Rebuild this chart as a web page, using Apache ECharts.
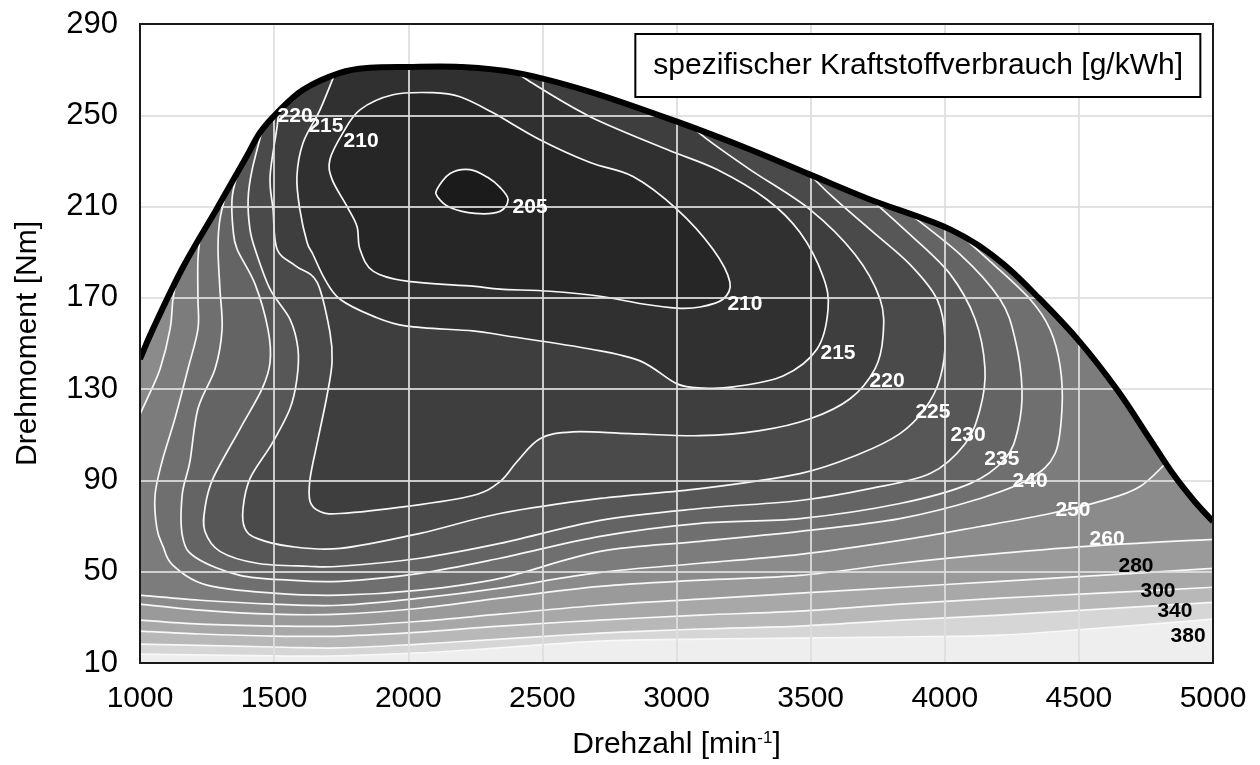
<!DOCTYPE html>
<html>
<head>
<meta charset="utf-8">
<script src="https://cdn.jsdelivr.net/npm/echarts@6/dist/echarts.min.js"></script>
<style>
html,body{margin:0;padding:0;background:#fff;}
#chart{width:1260px;height:765px;}
</style>
</head>
<body>
<div id="chart"></div>
<script>
// ---------- axes ----------
const rpmMin = 1000, rpmMax = 5000, rpmStep = 500;
const tqMin = 10, tqMax = 290, tqStep = 40;

// ---------- full-load curve [rpm, Nm] ----------
const fullLoad = [[1000,143.2],[1048,156.3],[1160,183.4],[1287,209.2],[1391,230.6],[1447,242.4],[1511,251.1],[1608,261.2],[1746,268.6],[1857,270.8],[1999,271.2],[2193,271.2],[2405,268.6],[2678,260.3],[3002,247.2],[3274,235],[3498,224],[3721,213.1],[4020,200],[4206,186],[4355,169.4],[4504,150.6],[4646,129.2],[4760,109],[4850,93],[4930,81],[5000,72]];

// ---------- BSFC contour lines [rpm, Nm] ----------
const c205 = [[2107,217.5],[2156,224.5],[2230,226.2],[2297,222.7],[2342,218.4],[2372,213.1],[2342,207.9],[2249,207],[2156,209.6],[2111,214]];
const c210 = [[1708,230.6],[1757,242.4],[1820,252.4],[1943,259],[2092,259.9],[2193,258.1],[2316,251.1],[2491,239.3],[2678,229.3],[2838,223.2],[3002,208.8],[3136,191.3],[3199,176.9],[3173,169.4],[3088,166],[3002,165.5],[2875,167.3],[2715,170.7],[2528,172.9],[2342,173.8],[2241,175.1],[1995,177.3],[1869,181.7],[1820,191.3],[1809,201.3],[1772,210],[1716,221.9]];
const c215 = [[1734,270.5],[1671,252.4],[1608,238],[1585,223.2],[1596,208.7],[1623,194.3],[1645,189],[1690,178],[1746,169.4],[1869,162],[1995,157.6],[2241,155.5],[2368,153.3],[2678,147.6],[2864,142.4],[3002,132.3],[3100,130.5],[3211,131],[3397,135.8],[3524,147.6],[3565,165.1],[3546,179.5],[3460,198.7],[3337,213.1],[3151,226.2],[2965,235],[2678,249.4],[2454,264.7],[2380,271]];
const c220 = [[1522,257],[1511,245],[1485,223.2],[1496,208.7],[1511,191.3],[1580,184],[1660,176.9],[1708,155],[1716,141.9],[1697,127.1],[1664,108.3],[1634,90.8],[1634,80.8],[1671,76.4],[1746,75.5],[1995,78.6],[2241,83.4],[2342,89.5],[2405,98.2],[2491,108.3],[2614,111.3],[2827,110.5],[3088,109.6],[3311,111.8],[3498,117],[3647,125.8],[3740,138.9],[3770,153.3],[3759,169.4],[3665,189.1],[3498,208.7],[3274,226.2],[3106,240.2],[3030,248]];
const c225 = [[1466,248],[1418,226.2],[1403,213.1],[1410,200],[1429,191.3],[1485,173.8],[1559,160.7],[1589,147.6],[1585,134.5],[1559,121.4],[1492,106.1],[1410,90.8],[1384,77.7],[1391,69],[1436,64.6],[1559,61.1],[1746,60.2],[2044,66.8],[2342,75.5],[2715,82.1],[3088,86.4],[3460,93],[3684,101.7],[3833,110.5],[3926,121.4],[3982,134.5],[4001,152],[3971,169.4],[3870,184.7],[3721,200],[3572,215.3],[3442,230.6]];
const c230 = [[1403,237],[1358,221.9],[1343,213.1],[1347,200],[1362,191.3],[1429,176],[1477,156.3],[1485,141.9],[1455,130.1],[1373,112.6],[1272,90.8],[1242,77.7],[1242,67.7],[1298,58.9],[1436,53.7],[1623,52.4],[1746,52.4],[2044,55.9],[2342,62.4],[2715,72.5],[3088,77.7],[3460,81.2],[3721,86.4],[3945,93],[4076,106.1],[4132,121.4],[4150,138.9],[4113,160.7],[4020,180.4],[3870,197.8],[3684,217.5]];
const c235 = [[1336,223],[1298,204.4],[1291,191.3],[1298,173.8],[1306,156.3],[1280,138.9],[1216,121.4],[1186,98.2],[1157,83.4],[1160,64.6],[1212,55.9],[1373,48.4],[1559,46.3],[1746,45.8],[2044,49.3],[2342,55.9],[2715,65.5],[3088,71.2],[3460,73.3],[3833,79.9],[4094,88.6],[4225,99.5],[4273,112.6],[4288,130.1],[4262,152],[4206,169.4],[4057,189.1],[3815,211.7]];
const c240 = [[1227,199.1],[1216,186.9],[1216,169.4],[1216,156.3],[1179,138.9],[1130,117],[1082,98.2],[1056,83.4],[1063,69],[1086,61.1],[1123,52.8],[1250,44.1],[1496,40.6],[1746,39.7],[2044,41.9],[2342,47.1],[2715,58.9],[3088,63.3],[3460,67.7],[3833,73.3],[4132,82.1],[4318,90.8],[4411,101.7],[4437,121.4],[4430,140.2],[4392,156.3],[4318,169.4],[4169,186],[4001,203.5]];
const c250a = [[1142,181.7],[1123,169.4],[1112,156.3],[1075,138.9],[1030,126.6],[1000,119]];
const c250b = [[1000,39.7],[1224,37.5],[1496,35.8],[1746,35.3],[2044,38.4],[2342,42.8],[2715,49.7],[3088,53.7],[3460,57.6],[3833,63.7],[4132,69.8],[4393,75.5],[4579,80.8],[4728,87.3],[4858,101.7]];
const c260 = [[1000,35.8],[1224,33.2],[1496,31.4],[1746,31.4],[2044,34],[2342,38.4],[2715,43.6],[3088,46.3],[3460,48.4],[3833,53.7],[4206,58],[4579,61.5],[5000,64.2]];
const c280 = [[1000,28.8],[1224,27],[1496,26.2],[1746,26.2],[2044,28.3],[2342,31.4],[2715,35.3],[3088,38],[3460,40.6],[3833,43.2],[4206,45.8],[4579,48.4],[5000,51.5]];
const c300 = [[1000,24],[1224,22.7],[1496,21.8],[1746,21.8],[2044,23.5],[2342,26.2],[2715,28.8],[3088,31],[3460,32.7],[3833,35.8],[4206,38.4],[4579,40.6],[5000,43.2]];
const c340 = [[1000,18.3],[1496,17],[1746,16.6],[2044,18.3],[2342,20.5],[2715,23.1],[3088,24.9],[3460,26.2],[3833,28.8],[4206,31],[4579,33.6],[5000,36.6]];
const c380 = [[1000,13.9],[1496,13.1],[1746,13.1],[2044,14.4],[2342,16.6],[2715,19.6],[3088,20.5],[3460,20.9],[3833,21.4],[4206,22.2],[4579,25.3],[5000,29.2]];

// ---------- contour labels [rpm, Nm, text] ----------
const labelsWhite = [[1578,249.8,'220'],[1693,245,'215'],[1824,238.5,'210'],[2454,209.6,'205'],[3255,167.3,'210'],[3602,145.8,'215'],[3785,133.6,'220'],[3956,120.1,'225'],[4087,109.6,'230'],[4213,99.5,'235'],[4318,89.5,'240'],[4478,76.8,'250'],[4605,64.2,'260']];
const labelsBlack = [[4713,52.4,'280'],[4795,41.5,'300'],[4858,32.7,'340'],[4907,21.8,'380']];

// ---------- band fill colours (region below each level) ----------
const bandColors = {base:'#eeeeee',380:'#d6d6d6',340:'#b8b8b8',300:'#a8a8a8',280:'#9a9a9a',260:'#8b8b8b',250:'#7c7c7c',240:'#6f6f6f',235:'#646464',230:'#575757',225:'#4a4a4a',220:'#3e3e3e',215:'#303030',210:'#262626',205:'#1b1b1b'};

function closeTop(line){
  return [{line:line},{pt:[line[line.length-1][0],tqMax]},{pt:[line[0][0],tqMax]}];
}
const regions = [
  {color:bandColors.base, parts:[{pt:[rpmMin,tqMin]},{pt:[rpmMax,tqMin]},{pt:[rpmMax,tqMax]},{pt:[rpmMin,tqMax]}]},
  {color:bandColors[380], parts:closeTop(c380)},
  {color:bandColors[340], parts:closeTop(c340)},
  {color:bandColors[300], parts:closeTop(c300)},
  {color:bandColors[280], parts:closeTop(c280)},
  {color:bandColors[260], parts:closeTop(c260)},
  {color:bandColors[250], parts:[{line:c250b},{pt:[c250b[c250b.length-1][0],tqMax]},{pt:[c250a[0][0],tqMax]},{line:c250a}]},
  {color:bandColors[240], parts:closeTop(c240)},
  {color:bandColors[235], parts:closeTop(c235)},
  {color:bandColors[230], parts:closeTop(c230)},
  {color:bandColors[225], parts:closeTop(c225)},
  {color:bandColors[220], parts:closeTop(c220)},
  {color:bandColors[215], parts:closeTop(c215)},
  {color:bandColors[210], loop:c210},
  {color:bandColors[205], loop:c205}
];
const openLines = [c380,c340,c300,c280,c260,c250a,c250b,c240,c235,c230,c225,c220,c215];
const loopLines = [c210,c205];

// Catmull-Rom -> cubic bezier segments (pixel space)
function segs(px, closed){
  const n = px.length; let d = '';
  const m = closed ? n : n - 1;
  for (let i = 0; i < m; i++){
    const p0 = closed ? px[(i-1+n)%n] : px[Math.max(i-1,0)];
    const p1 = px[i], p2 = px[(i+1)%n];
    const p3 = closed ? px[(i+2)%n] : px[Math.min(i+2,n-1)];
    const k = 1/6;
    d += ' C' + (p1[0]+(p2[0]-p0[0])*k).toFixed(2) + ',' + (p1[1]+(p2[1]-p0[1])*k).toFixed(2) + ' ' +
         (p2[0]-(p3[0]-p1[0])*k).toFixed(2) + ',' + (p2[1]-(p3[1]-p1[1])*k).toFixed(2) + ' ' +
         p2[0].toFixed(2) + ',' + p2[1].toFixed(2);
  }
  return d;
}
function toPx(line, api){ return line.map(p => api.coord(p)); }
function openPath(line, api){ const px = toPx(line, api); return 'M' + px[0][0] + ',' + px[0][1] + segs(px, false); }
function loopPath(line, api){ const px = toPx(line, api); return 'M' + px[0][0] + ',' + px[0][1] + segs(px, true) + ' Z'; }
function regionPath(parts, api){
  let d = '';
  parts.forEach(part => {
    if (part.line){
      const px = toPx(part.line, api);
      d += (d ? ' L' : 'M') + px[0][0] + ',' + px[0][1] + segs(px, false);
    } else {
      const p = api.coord(part.pt);
      d += (d ? ' L' : 'M') + p[0] + ',' + p[1];
    }
  });
  return d + ' Z';
}

const FONT = '"Liberation Sans", Arial, sans-serif';
const chart = echarts.init(document.getElementById('chart'), null, {renderer:'canvas'});
const dummy = (n) => Array.from({length:n}, (_, i) => [3000, 150, i]);
const allLabels = labelsWhite.map(l => [l[0], l[1], l[2], '#ffffff']).concat(labelsBlack.map(l => [l[0], l[1], l[2], '#000000']));

chart.setOption({
  animation: false,
  backgroundColor: '#ffffff',
  title: {
    text: 'spezifischer Kraftstoffverbrauch [g/kWh]',
    right: 59, top: 34,
    padding: [16, 18, 16, 18],
    borderColor: '#000', borderWidth: 2, backgroundColor: '#fff',
    z: 20,
    textStyle: {fontFamily: FONT, fontSize: 30, fontWeight: 'normal', color: '#000', lineHeight: 31}
  },
  grid: {left: 140, right: 47, top: 24, bottom: 100, show: true, z: 50,
         borderColor: '#1a1a1a', borderWidth: 2, backgroundColor: 'transparent'},
  xAxis: {
    type: 'value', min: rpmMin, max: rpmMax, interval: rpmStep, z: 5,
    name: 'Drehzahl [min{sup|-1}]', nameLocation: 'middle', nameGap: 67,
    nameTextStyle: {fontFamily: FONT, fontSize: 30, color: '#000',
      rich: {sup: {fontFamily: FONT, fontSize: 17, color: '#000', verticalAlign: 'top', lineHeight: 17}}},
    axisLine: {show: false}, axisTick: {show: false},
    axisLabel: {fontFamily: FONT, fontSize: 30, color: '#000', margin: 21, formatter: v => String(v)},
    splitLine: {show: true, lineStyle: {color: 'rgba(222,222,222,0.88)', width: 2}}
  },
  yAxis: {
    type: 'value', min: tqMin, max: tqMax, interval: tqStep, z: 5,
    name: 'Drehmoment [Nm]', nameLocation: 'middle', nameGap: 97,
    nameTextStyle: {fontFamily: FONT, fontSize: 30, color: '#000'},
    axisLine: {show: false}, axisTick: {show: false},
    axisLabel: {fontFamily: FONT, fontSize: 31, color: '#000', margin: 22, formatter: v => String(v)},
    splitLine: {show: true, lineStyle: {color: 'rgba(222,222,222,0.88)', width: 2}}
  },
  series: [
    { // filled bands
      type: 'custom', coordinateSystem: 'cartesian2d', z: 2, silent: true, clip: true,
      encode: {x: 0, y: 1}, data: dummy(regions.length),
      renderItem: (params, api) => {
        const r = regions[params.dataIndex];
        const d = r.loop ? loopPath(r.loop, api) : regionPath(r.parts, api);
        return {type: 'path', shape: {pathData: d}, style: {fill: r.color, stroke: r.color, lineWidth: 0.5}};
      }
    },
    { // white contour lines (open)
      type: 'custom', coordinateSystem: 'cartesian2d', z: 3, silent: true, clip: true,
      encode: {x: 0, y: 1}, data: dummy(openLines.length),
      renderItem: (params, api) => ({type: 'path', shape: {pathData: openPath(openLines[params.dataIndex], api)},
        style: {fill: 'none', stroke: '#f8f8f8', lineWidth: 1.7}})
    },
    { // white contour lines (closed)
      type: 'custom', coordinateSystem: 'cartesian2d', z: 3, silent: true, clip: true,
      encode: {x: 0, y: 1}, data: dummy(loopLines.length),
      renderItem: (params, api) => ({type: 'path', shape: {pathData: loopPath(loopLines[params.dataIndex], api)},
        style: {fill: 'none', stroke: '#f8f8f8', lineWidth: 1.7}})
    },
    { // white area above full-load curve
      type: 'custom', coordinateSystem: 'cartesian2d', z: 4, silent: true, clip: true,
      encode: {x: 0, y: 1}, data: dummy(1),
      renderItem: (params, api) => {
        const tl = api.coord([rpmMin, tqMax]), tr = api.coord([rpmMax, tqMax]);
        const d = openPath(fullLoad, api) + ' L' + tr[0] + ',' + tr[1] + ' L' + tl[0] + ',' + tl[1] + ' Z';
        return {type: 'path', shape: {pathData: d}, style: {fill: '#ffffff', stroke: 'none'}};
      }
    },
    { // full-load curve
      type: 'custom', coordinateSystem: 'cartesian2d', z: 6, silent: true, clip: true,
      encode: {x: 0, y: 1}, data: dummy(1),
      renderItem: (params, api) => ({type: 'path', shape: {pathData: openPath(fullLoad, api)},
        style: {fill: 'none', stroke: '#000', lineWidth: 6, lineJoin: 'round'}})
    },
    { // contour level labels
      type: 'custom', coordinateSystem: 'cartesian2d', z: 7, silent: true,
      encode: {x: 0, y: 1}, data: allLabels,
      renderItem: (params, api) => {
        const p = api.coord([api.value(0), api.value(1)]);
        const l = allLabels[params.dataIndex];
        return {type: 'text', x: p[0], y: p[1],
          style: {text: l[2], fill: l[3], font: 'bold 21px ' + FONT, align: 'center', verticalAlign: 'middle'}};
      }
    }
  ]
});
</script>
</body>
</html>
